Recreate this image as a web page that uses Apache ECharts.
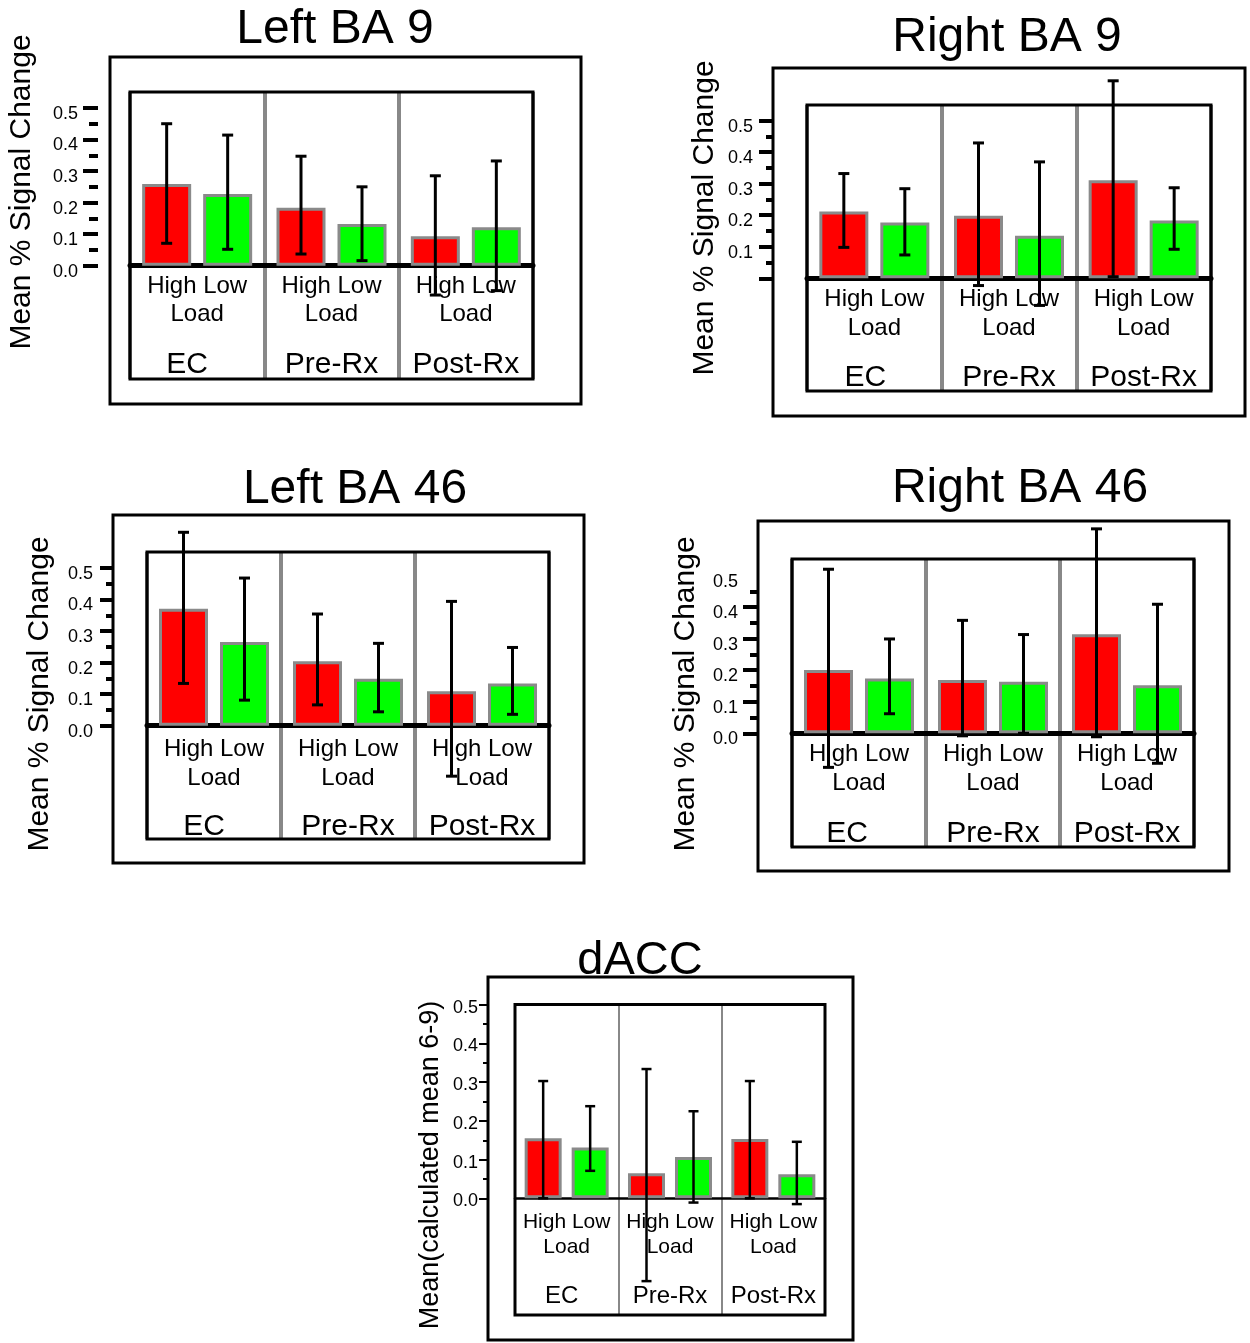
<!DOCTYPE html>
<html>
<head>
<meta charset="utf-8">
<script src="https://cdn.jsdelivr.net/npm/echarts@6/dist/echarts.min.js"></script>
<style>html,body{margin:0;padding:0;background:#fff}#chart{width:1250px;height:1343px}</style>
</head>
<body>
<div id="chart"></div>
<script>
// ---------- categories & labels ----------
const groups = ['EC', 'Pre-Rx', 'Post-Rx'];
const loadLabels = ['High', 'Low'];
const loadTitle = 'Load';
const panelTitles = ['Left BA 9', 'Right BA 9', 'Left BA 46', 'Right BA 46', 'dACC'];
const yNameSignal = 'Mean % Signal Change';
const yNameDacc = 'Mean(calculated mean 6-9)';

// ---------- tick values / tick labels ----------
const majorTicks = [0.0, 0.1, 0.2, 0.3, 0.4, 0.5];
const majorTicksNoTop = [0.0, 0.1, 0.2, 0.3, 0.4];
const minorTicks = [0.05, 0.15, 0.25, 0.35, 0.45];
const tickLabels = [0.0, 0.1, 0.2, 0.3, 0.4, 0.5];
const tickLabelsNoZero = [0.1, 0.2, 0.3, 0.4, 0.5];

// ---------- data (mean, error-bar low, error-bar high) ----------
const leftBA9High   = [0.259, 0.184, 0.093];
const leftBA9Low    = [0.227, 0.132, 0.122];
const leftBA9HighLo = [0.071, 0.037, -0.093];
const leftBA9HighHi = [0.450, 0.347, 0.285];
const leftBA9LowLo  = [0.052, 0.016, -0.079];
const leftBA9LowHi  = [0.414, 0.250, 0.332];

const rightBA9High   = [0.212, 0.198, 0.311];
const rightBA9Low    = [0.177, 0.135, 0.183];
const rightBA9HighLo = [0.098, -0.023, 0.005];
const rightBA9HighHi = [0.332, 0.429, 0.626];
const rightBA9LowLo  = [0.074, -0.086, 0.092];
const rightBA9LowHi  = [0.284, 0.369, 0.287];

const leftBA46High   = [0.371, 0.204, 0.109];
const leftBA46Low    = [0.265, 0.149, 0.134];
const leftBA46HighLo = [0.134, 0.066, -0.160];
const leftBA46HighHi = [0.613, 0.354, 0.394];
const leftBA46LowLo  = [0.081, 0.044, 0.036];
const leftBA46LowHi  = [0.468, 0.261, 0.248];

const rightBA46High   = [0.201, 0.169, 0.314];
const rightBA46Low    = [0.174, 0.163, 0.152];
const rightBA46HighLo = [-0.108, -0.008, -0.011];
const rightBA46HighHi = [0.520, 0.358, 0.648];
const rightBA46LowLo  = [0.062, 0.000, -0.095];
const rightBA46LowHi  = [0.299, 0.313, 0.409];

const daccHigh   = [0.155, 0.065, 0.153];
const daccLow    = [0.131, 0.107, 0.062];
const daccHighLo = [0.000, -0.214, 0.000];
const daccHighHi = [0.303, 0.334, 0.303];
const daccLowLo  = [0.071, -0.011, -0.015];
const daccLowHi  = [0.238, 0.225, 0.146];

// ---------- layout (positions / sizes / styles) ----------
const FONT = '"Liberation Sans", Arial, Helvetica, sans-serif';
const big = {boxW: 3, zeroW: 5, sepW: 4, tickW: 4, errW: 3, cap: 11, barW: 49, pitch: 61,
             fs: 24, gfs: 30, titleFs: 48, yLabFs: 18, yNameFs: 30, labShift: 6, labMargin: 20};
const small = {boxW: 3, zeroW: 2.5, sepW: 2, tickW: 2, errW: 2.5, cap: 10, barW: 37, pitch: 47,
             fs: 21, gfs: 24, titleFs: 47, yLabFs: 18, yNameFs: 27, labShift: 3, labMargin: 9};

const panels = [
  Object.assign({}, big, {
    title: panelTitles[0], titleXY: [335, 30], yName: yNameSignal, yNameXY: [22, 192],
    outer: [110, 57, 581, 404], inner: [130, 92, 533, 379], zeroY: 265.7, pxPerUnit: 315.5,
    axisX: 98, tickMajor: 15, tickMinor: 9,
    majors: majorTicks, minors: minorTicks, labels: tickLabels,
    lab: {m: 7, L: 28, L3: 72, ecPad: 20},
    high: leftBA9High, low: leftBA9Low, highLo: leftBA9HighLo, highHi: leftBA9HighHi, lowLo: leftBA9LowLo, lowHi: leftBA9LowHi
  }),
  Object.assign({}, big, {
    title: panelTitles[1], titleXY: [1007, 38], yName: yNameSignal, yNameXY: [705, 218],
    outer: [773, 68, 1245, 416], inner: [807, 105, 1211, 391], zeroY: 278.3, pxPerUnit: 315.5,
    axisX: 773, tickMajor: 14, tickMinor: 7,
    majors: majorTicks, minors: minorTicks, labels: tickLabelsNoZero,
    lab: {m: 7, L: 29, L3: 69, ecPad: 18},
    high: rightBA9High, low: rightBA9Low, highLo: rightBA9HighLo, highHi: rightBA9HighHi, lowLo: rightBA9LowLo, lowHi: rightBA9LowHi
  }),
  Object.assign({}, big, {
    title: panelTitles[2], titleXY: [355, 490], yName: yNameSignal, yNameXY: [40, 694],
    outer: [113, 515, 584, 863], inner: [147, 552, 549, 839], zeroY: 725.7, pxPerUnit: 315.5,
    axisX: 113, tickMajor: 13, tickMinor: 7,
    majors: majorTicks, minors: minorTicks, labels: tickLabels,
    lab: {m: 9, L: 29, L3: 68, ecPad: 20},
    high: leftBA46High, low: leftBA46Low, highLo: leftBA46HighLo, highHi: leftBA46HighHi, lowLo: leftBA46LowLo, lowHi: leftBA46LowHi
  }),
  Object.assign({}, big, {
    title: panelTitles[3], titleXY: [1020, 489], yName: yNameSignal, yNameXY: [686, 694],
    outer: [758, 521, 1229, 871], inner: [792, 559, 1194, 847], zeroY: 733.3, pxPerUnit: 315.5,
    axisX: 758, tickMajor: 15, tickMinor: 8,
    majors: majorTicksNoTop, minors: minorTicks, labels: tickLabels,
    lab: {m: 7, L: 29, L3: 70, ecPad: 24},
    high: rightBA46High, low: rightBA46Low, highLo: rightBA46HighLo, highHi: rightBA46HighHi, lowLo: rightBA46LowLo, lowHi: rightBA46LowHi
  }),
  Object.assign({}, small, {
    title: panelTitles[4], titleXY: [640, 961], yName: yNameDacc, yNameXY: [431, 1165],
    outer: [488, 977, 853, 1340], inner: [515, 1004.5, 825, 1315], zeroY: 1198.3, pxPerUnit: 387,
    axisX: 487, tickMajor: 8, tickMinor: 4,
    majors: majorTicks, minors: minorTicks, labels: tickLabels,
    lab: {m: 11, L: 25, L3: 75, ecPad: 10},
    high: daccHigh, low: daccLow, highLo: daccHighLo, highHi: daccHighHi, lowLo: daccLowLo, lowHi: daccLowHi
  })
];

function makeErr(off, cap, lw) {
  return function (params, api) {
    const k = api.value(0);
    const lo = api.coord([k, api.value(1)]);
    const hi = api.coord([k, api.value(2)]);
    const x = lo[0] + off;
    const st = {stroke: '#000', lineWidth: lw};
    return {type: 'group', children: [
      {type: 'line', shape: {x1: x, y1: hi[1], x2: x, y2: lo[1]}, style: st},
      {type: 'line', shape: {x1: x - cap / 2, y1: hi[1], x2: x + cap / 2, y2: hi[1]}, style: st},
      {type: 'line', shape: {x1: x - cap / 2, y1: lo[1], x2: x + cap / 2, y2: lo[1]}, style: st}
    ]};
  };
}

const grid = [], xAxis = [], yAxis = [], series = [], graphic = [];
panels.forEach((p, i) => {
  const [x1, y1, x2, y2] = p.inner;
  const ymax = (p.zeroY - y1) / p.pxPerUnit;
  const ymin = -(y2 - p.zeroY) / p.pxPerUnit;
  grid.push({left: x1, top: y1, width: x2 - x1, height: y2 - y1, show: true, z: 1,
             containLabel: false, outerBoundsMode: 'none',
             borderColor: '#000', borderWidth: p.boxW, backgroundColor: 'transparent'});
  xAxis.push({
    gridIndex: i, type: 'category', data: groups, boundaryGap: true,
    position: 'bottom', offset: -(y2 - p.zeroY),
    axisLine: {show: true, onZero: false, lineStyle: {color: '#000', width: p.zeroW}},
    axisTick: {show: false},
    splitLine: {show: true, lineStyle: {color: '#888', width: p.sepW}},
    axisLabel: {
      interval: 0, margin: p.lab.m, color: '#000', fontFamily: FONT, hideOverlap: false,
      formatter: v => '{hl|' + loadLabels.join(' ') + '}\n{ld|' + loadTitle + '}\n' +
                      (v === groups[0] ? '{ge|' + v + '}' : '{g|' + v + '}'),
      rich: {
        hl: {fontSize: p.fs, lineHeight: p.lab.L, fontFamily: FONT, color: '#000'},
        ld: {fontSize: p.fs, lineHeight: p.lab.L, fontFamily: FONT, color: '#000'},
        g:  {fontSize: p.gfs, lineHeight: p.lab.L3, fontFamily: FONT, color: '#000'},
        ge: {fontSize: p.gfs, lineHeight: p.lab.L3, fontFamily: FONT, color: '#000', padding: [0, p.lab.ecPad, 0, 0]}
      }
    }
  });
  const offset = x1 - p.axisX;
  yAxis.push({
    gridIndex: i, type: 'value', position: 'left', offset: offset, min: ymin, max: ymax,
    axisLine: {show: false}, splitLine: {show: false},
    axisTick: {show: true, inside: false, length: p.tickMajor, customValues: p.majors,
               lineStyle: {color: '#000', width: p.tickW}},
    axisLabel: {show: true, customValues: p.labels, formatter: v => Number(v).toFixed(1),
                margin: p.labMargin, fontSize: p.yLabFs, fontFamily: FONT, color: '#000',
                verticalAlign: 'top', lineHeight: p.labShift * 2}
  });
  yAxis.push({
    gridIndex: i, type: 'value', position: 'left', offset: offset, min: ymin, max: ymax,
    axisLine: {show: false}, splitLine: {show: false},
    axisTick: {show: true, inside: false, length: p.tickMinor, customValues: p.minors,
               lineStyle: {color: '#000', width: p.tickW}},
    axisLabel: {show: false}
  });
  const gapPct = ((p.pitch - p.barW) / p.barW * 100) + '%';
  [[p.high, '#ff0000', loadLabels[0]], [p.low, '#00ff00', loadLabels[1]]].forEach(([d, c, nm]) => {
    series.push({
      type: 'bar', name: nm, xAxisIndex: i, yAxisIndex: 2 * i, data: d, silent: true,
      barWidth: p.barW, barGap: gapPct, z: 2,
      itemStyle: {color: c, borderColor: '#8a8a8a', borderWidth: 3}
    });
  });
  [[p.highLo, p.highHi, -p.pitch / 2], [p.lowLo, p.lowHi, p.pitch / 2]].forEach(([lo, hi, off]) => {
    series.push({
      type: 'custom', xAxisIndex: i, yAxisIndex: 2 * i, silent: true, clip: false, z: 3,
      encode: {x: 0, y: [1, 2]},
      data: groups.map((g, k) => [k, lo[k], hi[k]]),
      renderItem: makeErr(off, p.cap, p.errW)
    });
  });
  const [o1, oy1, o2, oy2] = p.outer;
  graphic.push({type: 'rect', silent: true, z: 5, shape: {x: o1, y: oy1, width: o2 - o1, height: oy2 - oy1},
                style: {fill: 'transparent', stroke: '#000', lineWidth: 3}});
  graphic.push({type: 'text', silent: true, x: p.titleXY[0], y: p.titleXY[1],
                style: {text: p.title, font: p.titleFs + 'px ' + FONT, fill: '#000',
                        align: 'center', verticalAlign: 'middle', textAlign: 'center', textVerticalAlign: 'middle'}});
  graphic.push({type: 'text', silent: true, x: p.yNameXY[0], y: p.yNameXY[1], rotation: Math.PI / 2,
                style: {text: p.yName, font: p.yNameFs + 'px ' + FONT, fill: '#000',
                        align: 'center', verticalAlign: 'middle', textAlign: 'center', textVerticalAlign: 'middle'}});
});

const chart = echarts.init(document.getElementById('chart'), null, {renderer: 'canvas'});
chart.setOption({
  backgroundColor: '#ffffff',
  animation: false,
  grid, xAxis, yAxis, series,
  graphic: {elements: graphic}
});
</script>
</body>
</html>
